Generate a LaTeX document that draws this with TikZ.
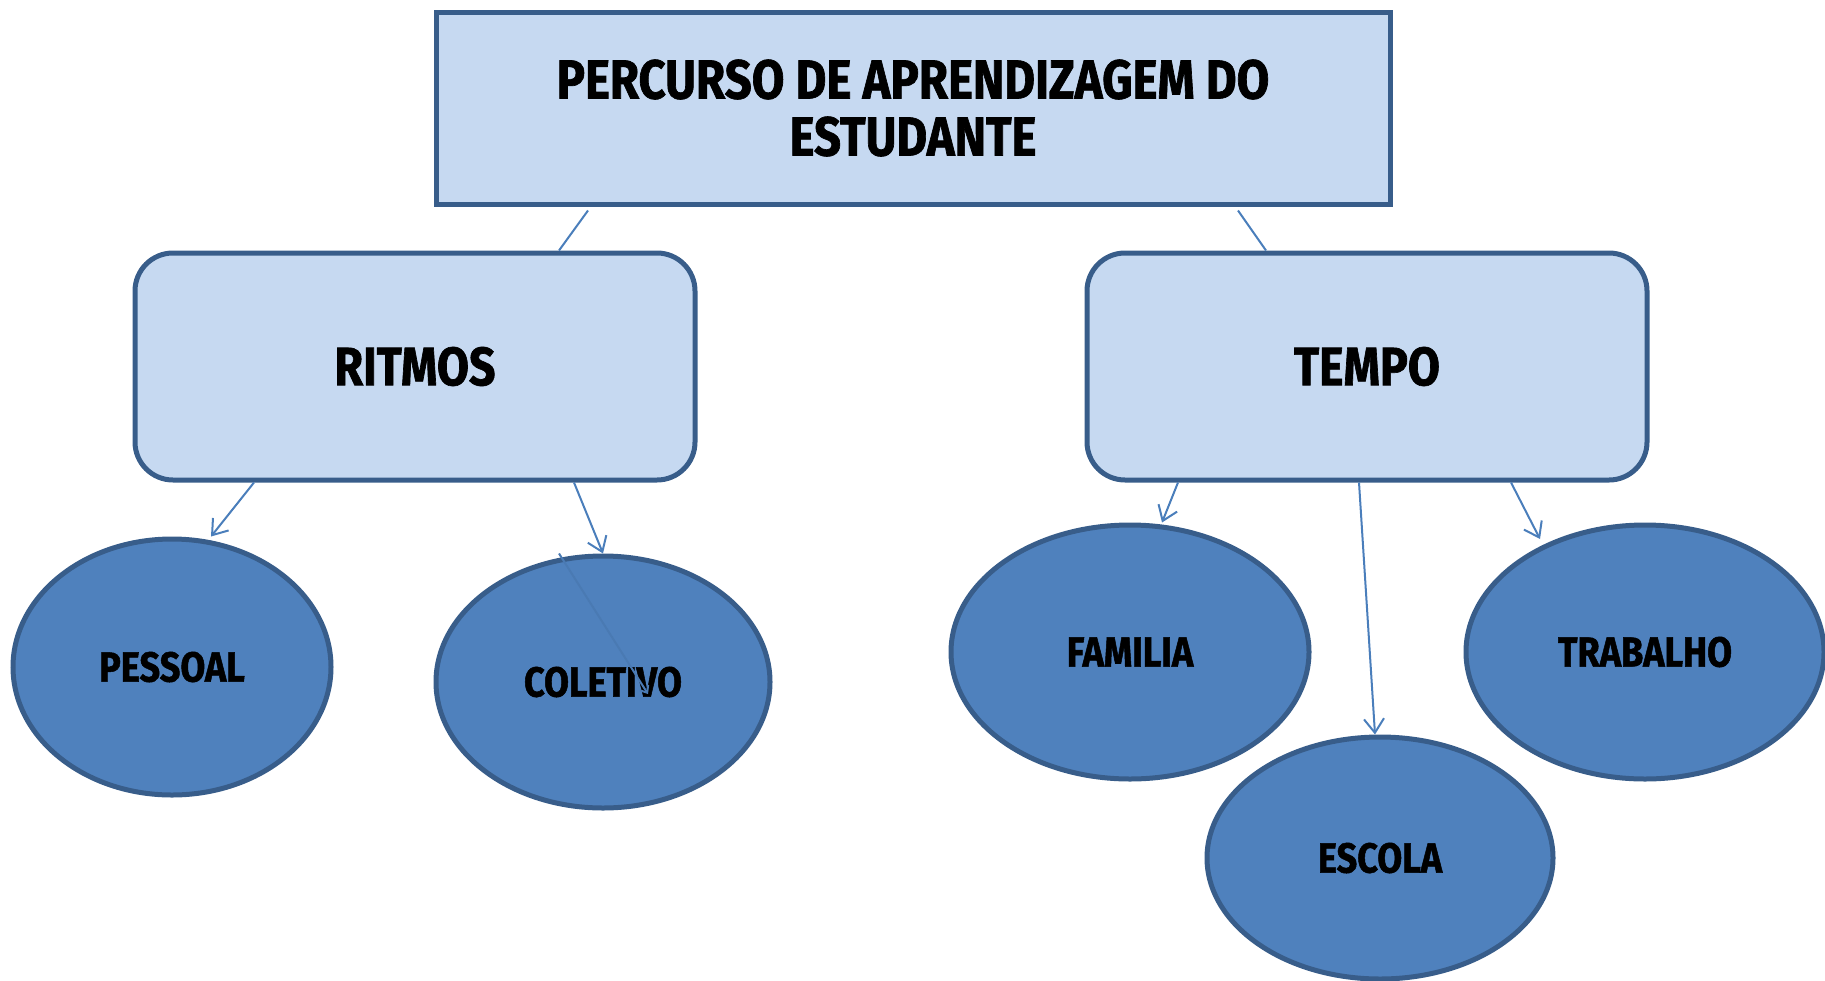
\documentclass[tikz,border=0pt]{standalone}
\usepackage{fontspec}
\newfontfamily\mapfont[FakeStretch=0.86,BoldFeatures={FakeBold=1.2}]{Fira Sans}
\usetikzlibrary{arrows.meta,shapes.geometric}

\definecolor{boxfill}{HTML}{C6D9F1}
\definecolor{boxline}{HTML}{385D8A}
\definecolor{ovalfill}{HTML}{4F81BD}
\definecolor{linkline}{HTML}{4A7EBB}

\begin{document}
\begin{tikzpicture}[x=0.5pt,y=-0.5pt,>={Straight Barb[length=7pt,width=10pt]},
                    title box/.style={rectangle,draw=boxline,fill=boxfill,line width=2.5pt,
                      minimum width=477pt,minimum height=96pt,align=center,
                      font=\mapfont\bfseries\fontsize{27.5}{28.5}\selectfont},
                    main box/.style={rectangle,rounded corners=19pt,draw=boxline,fill=boxfill,
                      line width=2.5pt,minimum width=280pt,minimum height=113.5pt,
                      font=\mapfont\bfseries\fontsize{27}{30}\selectfont},
                    oval/.style={ellipse,draw=boxline,fill=ovalfill,line width=2.5pt,inner sep=0pt,
                      font=\mapfont\bfseries\fontsize{21}{24}\selectfont}]
  \useasboundingbox (0,0) rectangle (1825,980);
  \node[title box] (top) at (913,108) {PERCURSO DE APRENDIZAGEM DO\\ESTUDANTE};
  \node[main box] (ritmos) at (415,366.5) {RITMOS};
  \node[main box] (tempo) at (1367,366.5) {TEMPO};
  \node[oval,minimum width=159pt,minimum height=128pt] (pessoal) at (172,667) {PESSOAL};
  \node[oval,minimum width=167pt,minimum height=126pt] (coletivo) at (603,682) {COLETIVO};
  \node[oval,minimum width=179pt,minimum height=127pt] (familia) at (1130,652) {FAMILIA};
  \node[oval,minimum width=173pt,minimum height=121pt] (escola) at (1380,858) {ESCOLA};
  \node[oval,minimum width=179pt,minimum height=127pt] (trabalho) at (1645,652) {TRABALHO};
  \path[draw=linkline,line width=1pt]
    ([xshift=-162.5pt,yshift=-2pt]top.south) edge ([xshift=72pt]ritmos.north)
    ([xshift=162.5pt,yshift=-2pt]top.south) edge ([xshift=-50.5pt]tempo.north)
    ([xshift=-80.5pt]ritmos.south) edge [->] ([xshift=19.5pt]pessoal.north)
    ([xshift=79.5pt]ritmos.south) edge [->] (coletivo.north)
    ([xshift=-22pt]coletivo.north) edge [->,draw=ovalfill!80!boxline,>={Straight Barb[length=3pt,width=5pt]}]
      ([shift={(22.5pt,-6pt)}]coletivo.center)
    ([xshift=-94.5pt]tempo.south) edge [->] ([xshift=16pt]familia.north)
    ([xshift=-4pt]tempo.south) edge [->] ([xshift=-2.5pt]escola.north)
    ([xshift=72pt]tempo.south) edge [->] ([shift={(-52.5pt,56.5pt)}]trabalho.center);
\end{tikzpicture}
\end{document}
